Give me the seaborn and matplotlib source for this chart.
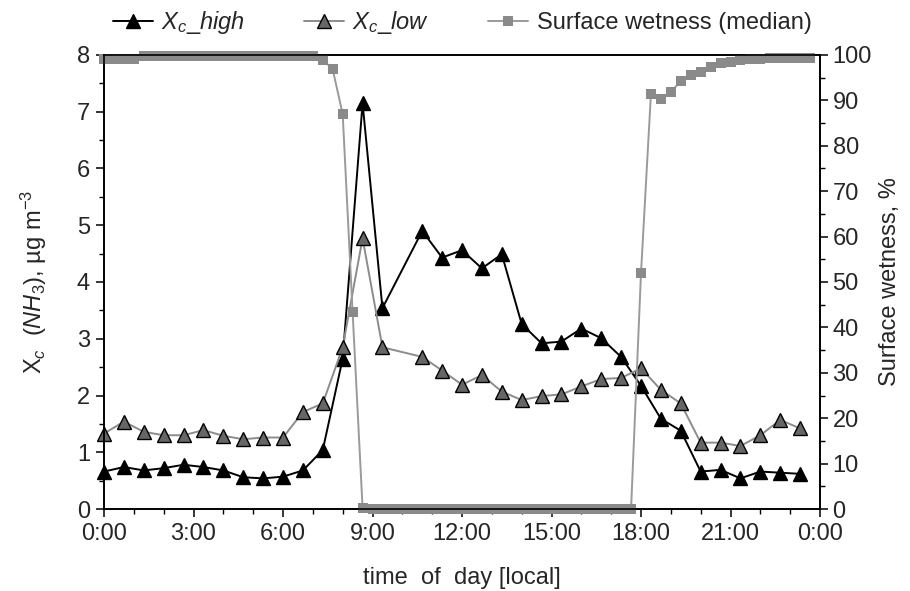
import numpy as np
import pandas as pd
import matplotlib
matplotlib.use("Agg")
import matplotlib.pyplot as plt
from matplotlib.ticker import MultipleLocator, FixedLocator
import seaborn as sns

# ---- data -------------------------------------------------------------
# concentration series, 40-min steps (no value at 10:00)
conc_hours = [0, 0.667, 1.333, 2, 2.667, 3.333, 4, 4.667, 5.333, 6, 6.667, 7.333,
              8, 8.667, 9.333, 10.667, 11.333, 12, 12.667, 13.333, 14, 14.667,
              15.333, 16, 16.667, 17.333, 18, 18.667, 19.333, 20, 20.667,
              21.333, 22, 22.667, 23.333]
xc_high = [0.66, 0.74, 0.68, 0.72, 0.78, 0.74, 0.68, 0.56, 0.54, 0.57, 0.68, 1.04,
           2.65, 7.15, 3.54, 4.90, 4.43, 4.56, 4.24, 4.49, 3.26, 2.92,
           2.95, 3.18, 3.01, 2.68, 2.17, 1.59, 1.38, 0.66, 0.69,
           0.54, 0.66, 0.64, 0.62]
xc_low = [1.33, 1.54, 1.36, 1.30, 1.30, 1.39, 1.29, 1.23, 1.26, 1.26, 1.71, 1.86,
          2.85, 4.77, 2.85, 2.68, 2.44, 2.19, 2.36, 2.07, 1.92, 1.99,
          2.02, 2.16, 2.29, 2.31, 2.48, 2.10, 1.86, 1.17, 1.17,
          1.11, 1.30, 1.57, 1.42]

# surface wetness (median), 20-min steps
wet_hours = [i / 3 for i in range(72)]
wetness = ([99.2, 99.2, 99.2, 99.2] + [99.7] * 18 +
           [99.0, 96.8, 87.0, 43.3, 0.3] + [0.0] * 27 +
           [52.0, 91.5, 90.2, 91.8, 94.3, 95.6, 96.3, 97.4, 98.2, 98.5,
            98.9, 99.1, 99.2, 99.3, 99.3, 99.4, 99.4, 99.4])

x_ticks = [0, 3, 6, 9, 12, 15, 18, 21, 24]
x_ticklabels = ["0:00", "3:00", "6:00", "9:00", "12:00", "15:00", "18:00", "21:00", "0:00"]

# ---- style ------------------------------------------------------------
sns.set_style("ticks")
plt.rcParams["font.family"] = ["Liberation Sans", "DejaVu Sans"]
plt.rcParams["mathtext.fontset"] = "custom"
plt.rcParams["mathtext.rm"] = "Liberation Sans"
plt.rcParams["mathtext.it"] = "Liberation Sans:italic"
plt.rcParams["mathtext.bf"] = "Liberation Sans:bold"
FS = 17

fig = plt.figure(figsize=(9.1, 5.91), dpi=100)
ax = fig.add_axes([0.1143, 0.1387, 0.7868, 0.7683])
ax2 = ax.twinx()

df_c = pd.DataFrame({"h": conc_hours, "high": xc_high, "low": xc_low})
df_w = pd.DataFrame({"h": wet_hours, "wet": wetness})

sns.lineplot(data=df_c, x="h", y="high", ax=ax, color="black", lw=1.4,
             marker="^", markersize=10, markerfacecolor="black",
             markeredgecolor="black", markeredgewidth=1.0, clip_on=False,
             label=r"$X_c\_high$", legend=False)
sns.lineplot(data=df_c, x="h", y="low", ax=ax, color="#8c8c8c", lw=1.4,
             marker="^", markersize=10, markerfacecolor="#666666",
             markeredgecolor="black", markeredgewidth=1.0, clip_on=False,
             label=r"$X_c\_low$", legend=False)
sns.lineplot(data=df_w, x="h", y="wet", ax=ax2, color="#9a9a9a", lw=1.4,
             marker="s", markersize=6.5, markerfacecolor="#8a8a8a",
             markeredgecolor="#8a8a8a", markeredgewidth=0, clip_on=False,
             label="Surface wetness (median)", legend=False)

# axes limits & ticks
ax.set_xlim(0, 24)
ax.set_ylim(0, 8)
ax2.set_ylim(0, 100)
ax.xaxis.set_major_locator(FixedLocator(x_ticks))
ax.set_xticklabels(x_ticklabels)
ax.xaxis.set_minor_locator(MultipleLocator(1))
ax.yaxis.set_major_locator(MultipleLocator(1))
ax.yaxis.set_minor_locator(MultipleLocator(0.5))
ax2.yaxis.set_major_locator(MultipleLocator(10))
ax2.yaxis.set_minor_locator(MultipleLocator(5))

for a in (ax, ax2):
    a.tick_params(which="major", direction="out", length=6, width=1.1, labelsize=FS, color="black")
    a.tick_params(which="minor", direction="out", length=3.5, width=1.0, color="black")
    for s in a.spines.values():
        s.set_visible(True)
        s.set_color("black")
        s.set_linewidth(1.2)
ax.tick_params(axis="x", pad=4)
ax.tick_params(axis="y", pad=4)
ax2.tick_params(axis="y", pad=3)

ax.set_xlabel("time  of  day [local]", fontsize=FS, labelpad=16)
ax.set_ylabel(r"X$_c$  $(\mathit{NH}_3)$, µg m$^{-3}$", fontsize=FS, labelpad=20)
ax2.set_ylabel("Surface wetness, %", fontsize=FS, labelpad=5)

h1, l1 = ax.get_legend_handles_labels()
h2, l2 = ax2.get_legend_handles_labels()
ax2.legend(h1 + h2, l1 + l2, loc="center", bbox_to_anchor=(0.5, 1.072),
           ncol=3, frameon=False, fontsize=FS, handlelength=1.7,
           columnspacing=2.5, handletextpad=0.35, borderaxespad=0.0)

fig.savefig("out.png", dpi=100)
